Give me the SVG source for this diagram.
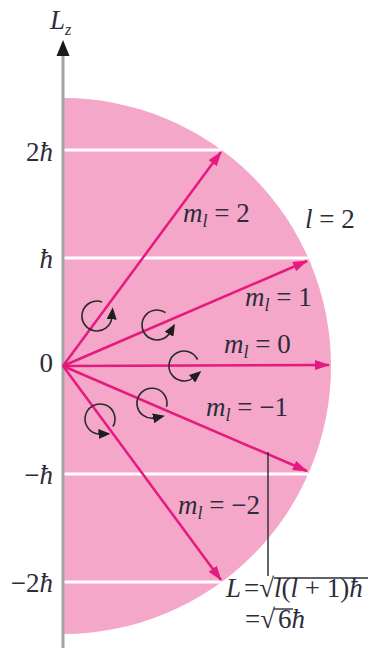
<svg xmlns="http://www.w3.org/2000/svg" width="375" height="648" viewBox="0 0 375 648">
<style>
.lbl{font-family:"Liberation Serif","Times New Roman",serif;font-size:27px;fill:#2d2d3a}
.it{font-style:italic}
.vec{stroke:#e6197f;stroke-width:2.5;fill:none;marker-end:url(#vh)}
.prec{stroke:#2a2a2a;stroke-width:1.6;fill:none;marker-end:url(#ch)}
.grid{stroke:#ffffff;stroke-width:3}
</style>
<defs>
<marker id="vh" markerUnits="userSpaceOnUse" markerWidth="15" markerHeight="10" refX="14" refY="5" orient="auto">
<path d="M0,0 L15,5 L0,10 z" fill="#e6197f"/>
</marker>
<marker id="ch" markerUnits="userSpaceOnUse" markerWidth="12" markerHeight="10" refX="2" refY="5" orient="auto">
<path d="M0,0 L12,5 L0,10 z" fill="#1e1e1e"/>
</marker>
</defs>
<rect width="375" height="648" fill="#ffffff"/>
<g id="disk">
<path d="M63,98 A268,268 0 0 1 63,634 Z" fill="#f4a7c9"/>
<line class="grid" x1="64" y1="150" x2="221.6" y2="150"/>
<line class="grid" x1="64" y1="258" x2="308" y2="258"/>
<line class="grid" x1="64" y1="474" x2="308" y2="474"/>
<line class="grid" x1="64" y1="582" x2="221.6" y2="582"/>
</g>
<g id="axis">
<line x1="63" y1="54" x2="63" y2="648" stroke="#a3a3a3" stroke-width="3"/>
<path d="M63,40 L69.5,56 L56.5,56 z" fill="#1a1a1a"/>
<text class="lbl it" x="50" y="29" font-size="24">L<tspan font-size="16" dy="6">z</tspan></text>
</g>
<g id="axis-labels">
<text class="lbl" x="53" y="161" text-anchor="end">2<tspan class="it">ħ</tspan></text>
<text class="lbl it" x="53" y="268" text-anchor="end">ħ</text>
<text class="lbl" x="53" y="372" text-anchor="end">0</text>
<text class="lbl" x="53" y="484" text-anchor="end">−<tspan class="it">ħ</tspan></text>
<text class="lbl" x="53" y="592" text-anchor="end">−2<tspan class="it">ħ</tspan></text>
</g>
<g id="connectors">
<line class="vec" x1="63" y1="366" x2="221" y2="152"/>
<line class="vec" x1="63" y1="366" x2="307" y2="261"/>
<line class="vec" x1="63" y1="366" x2="329" y2="365" stroke-width="3.5"/>
<line class="vec" x1="63" y1="366" x2="307" y2="471"/>
<line class="vec" x1="63" y1="366" x2="221" y2="580"/>
<line x1="268" y1="452" x2="268" y2="576" stroke="#333333" stroke-width="1.5"/>
</g>
<g id="precession">
<path class="prec" d="M102.1,301.9 A15,15 0 1 0 111.9,317.3"/>
<path class="prec" d="M165.6,312.7 A15,15 0 1 0 170.0,332.5"/>
<path class="prec" d="M197.6,359.7 A15,15 0 1 0 193.6,377.5"/>
<path class="prec" d="M166.5,406.9 A15,15 0 1 0 155.1,417.9"/>
<path class="prec" d="M113.0,426.5 A15,15 0 1 0 100.5,434.0"/>
</g>
<g id="m2"><text class="lbl" x="183" y="222"><tspan class="it">m</tspan><tspan class="it" font-size="18" dy="5">l</tspan><tspan dy="-5"> = 2</tspan></text></g>
<g id="l2"><text class="lbl" x="305" y="228"><tspan class="it">l</tspan> = 2</text></g>
<g id="m1"><text class="lbl" x="245" y="306"><tspan class="it">m</tspan><tspan class="it" font-size="18" dy="5">l</tspan><tspan dy="-5"> = 1</tspan></text></g>
<g id="m0"><text class="lbl" x="224" y="353"><tspan class="it">m</tspan><tspan class="it" font-size="18" dy="5">l</tspan><tspan dy="-5"> = 0</tspan></text></g>
<g id="mm1"><text class="lbl" x="206" y="416"><tspan class="it">m</tspan><tspan class="it" font-size="18" dy="5">l</tspan><tspan dy="-5"> = −1</tspan></text></g>
<g id="mm2"><text class="lbl" x="178" y="514"><tspan class="it">m</tspan><tspan class="it" font-size="18" dy="5">l</tspan><tspan dy="-5"> = −2</tspan></text></g>
<g id="formula">
<text class="lbl" x="226" y="597"><tspan class="it">L</tspan><tspan dx="3">=√</tspan><tspan class="it">l</tspan>(<tspan class="it">l</tspan> + 1)<tspan class="it">ħ</tspan></text>
<line x1="274" y1="578" x2="368" y2="578" stroke="#2d2d3a" stroke-width="1.4"/>
<text class="lbl" x="245" y="628">=√<tspan dx="3">6</tspan><tspan class="it">ħ</tspan></text>
<line x1="274" y1="609" x2="293" y2="609" stroke="#2d2d3a" stroke-width="1.4"/>
</g>
</svg>
